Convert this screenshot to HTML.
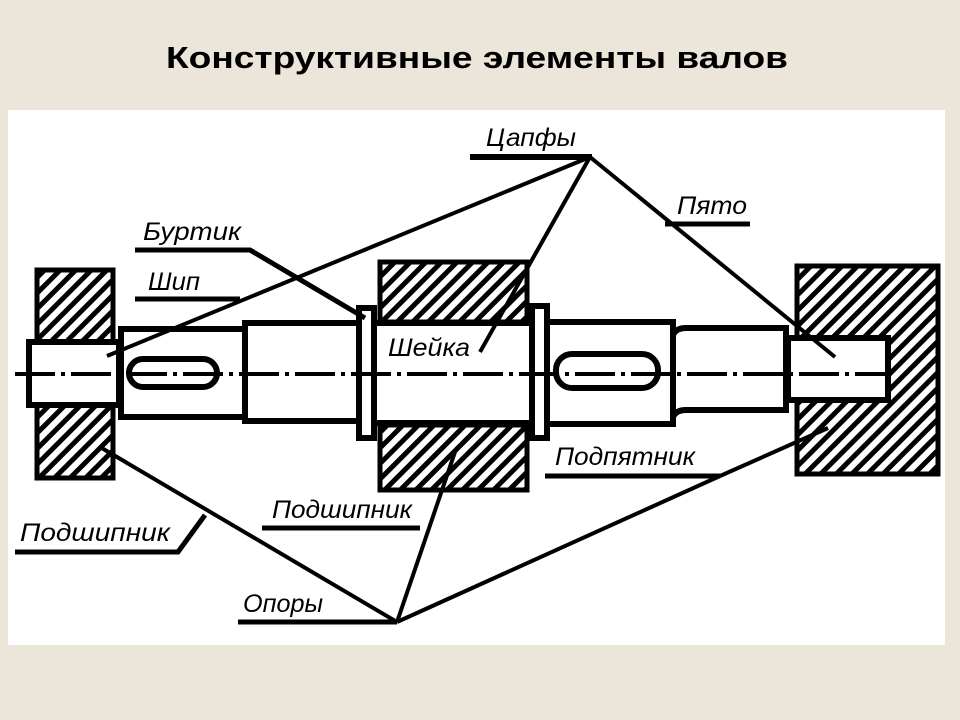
<!DOCTYPE html>
<html><head><meta charset="utf-8"><style>
html,body{margin:0;padding:0;width:960px;height:720px;overflow:hidden;background:#ebe5da;}
svg{display:block}
</style></head><body>
<svg width="960" height="720" xmlns="http://www.w3.org/2000/svg">
<defs>
<pattern id="h" patternUnits="userSpaceOnUse" width="11" height="11" patternTransform="rotate(45)">
<rect x="0" y="0" width="5" height="11" fill="#000"/>
</pattern>
</defs>
<rect width="960" height="720" fill="#ebe5da"/>
<text x="166" y="68" textLength="622" lengthAdjust="spacingAndGlyphs" font-family="Liberation Sans, sans-serif" font-weight="bold" font-size="31" fill="#000">Конструктивные элементы валов</text>
<rect x="8" y="110" width="937" height="535" fill="#fff"/>

<g stroke="#000" stroke-width="5">
<rect x="37" y="270" width="76" height="208" fill="url(#h)"/>
<rect x="380" y="262" width="147" height="60" fill="url(#h)"/>
<rect x="380" y="425" width="147" height="65" fill="url(#h)"/>
<rect x="797" y="266" width="141" height="208" fill="url(#h)"/>
</g>
<g fill="#fff" stroke="#000" stroke-width="6">
<rect x="29" y="342" width="90" height="63"/>
<rect x="788" y="338" width="100" height="62"/>
<rect x="121" y="329" width="124" height="88"/>
<rect x="245" y="323" width="115" height="98"/>
<rect x="374" y="323" width="158" height="100"/>
<rect x="547" y="322" width="126" height="102"/>
<path d="M673 335 Q676 328 686 328 L786 328 L786 410 L686 410 Q676 410 673 417 Z"/>
<rect x="359" y="308" width="15" height="130"/>
<rect x="532" y="306" width="15" height="132"/>
<rect x="129" y="359" width="88" height="28" rx="14"/>
<rect x="556" y="354" width="102" height="34" rx="16"/>
</g>
<line x1="15" y1="374" x2="890" y2="374" stroke="#000" stroke-width="4" stroke-dasharray="40,6,4,6"/>

<g stroke="#000" stroke-width="4" fill="none">
<line x1="470" y1="157" x2="592" y2="157" stroke-width="6"/>
<line x1="590" y1="157" x2="107" y2="356"/>
<line x1="590" y1="157" x2="480" y2="352"/>
<line x1="590" y1="157" x2="835" y2="357"/>
<line x1="665" y1="224" x2="750" y2="224" stroke-width="5"/>
<polyline points="135,250 250,250 365,318" stroke-width="5"/>
<line x1="135" y1="299" x2="240" y2="299" stroke-width="5"/>
<line x1="545" y1="476" x2="720" y2="476" stroke-width="5"/>
<line x1="720" y1="476" x2="828" y2="428"/>
<polyline points="15,552 178,552 205,515" stroke-width="5"/>
<line x1="262" y1="528" x2="420" y2="528" stroke-width="5"/>
<line x1="238" y1="622" x2="397" y2="622" stroke-width="5"/>
<line x1="397" y1="622" x2="100" y2="447"/>
<line x1="397" y1="622" x2="455" y2="452"/>
<line x1="397" y1="622" x2="720" y2="476"/>
</g>
<g font-family="Liberation Sans Narrow, Liberation Sans, sans-serif" font-style="italic" font-size="25" fill="#000">
<text x="486" y="146" textLength="90" lengthAdjust="spacingAndGlyphs">Цапфы</text>
<text x="677" y="214" textLength="70" lengthAdjust="spacingAndGlyphs">Пято</text>
<text x="143" y="240" textLength="98" lengthAdjust="spacingAndGlyphs">Буртик</text>
<text x="148" y="290" textLength="52" lengthAdjust="spacingAndGlyphs">Шип</text>
<text x="388" y="356" textLength="82" lengthAdjust="spacingAndGlyphs">Шейка</text>
<text x="555" y="465" textLength="140" lengthAdjust="spacingAndGlyphs">Подпятник</text>
<text x="20" y="541" textLength="150" lengthAdjust="spacingAndGlyphs">Подшипник</text>
<text x="272" y="518" textLength="140" lengthAdjust="spacingAndGlyphs">Подшипник</text>
<text x="243" y="612" textLength="80" lengthAdjust="spacingAndGlyphs">Опоры</text>
</g>
</svg>
</body></html>
